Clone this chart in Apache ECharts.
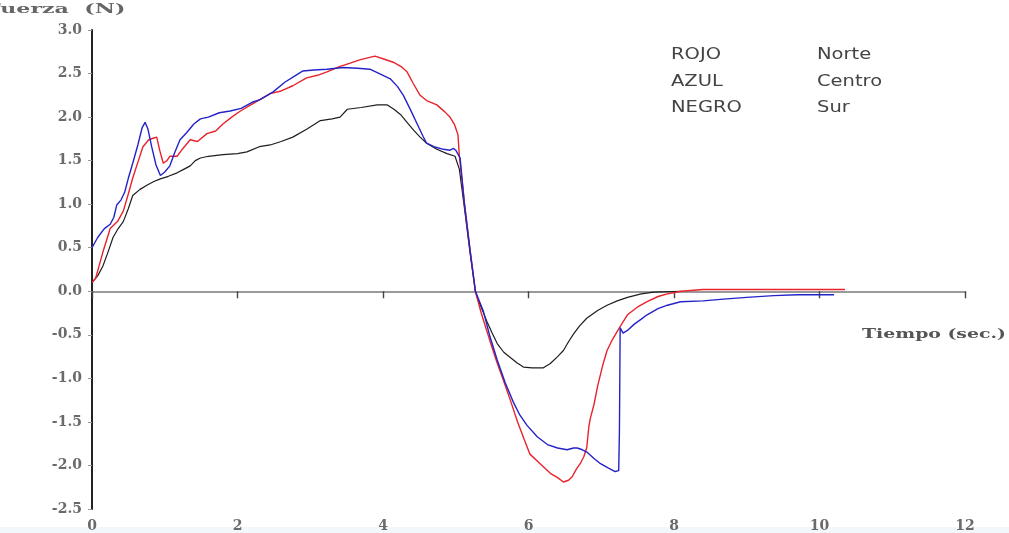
<!DOCTYPE html>
<html>
<head>
<meta charset="utf-8">
<title>Fuerza vs Tiempo</title>
<script src="https://cdn.jsdelivr.net/npm/echarts@6/dist/echarts.min.js"></script>
<style>
  html, body { margin: 0; padding: 0; background: #ffffff; }
  #chart { width: 1009px; height: 533px; }
</style>
</head>
<body>
<div id="chart"></div>
<script>
// Force curves (N) against time (s) for three sensors
var norte = [
  [0.00, 0.10], [0.05, 0.15], [0.15, 0.45], [0.25, 0.72], [0.35, 0.80], [0.43, 0.92],
  [0.50, 1.12], [0.56, 1.30], [0.63, 1.48], [0.70, 1.66], [0.78, 1.74], [0.85, 1.76],
  [0.89, 1.77], [0.93, 1.62], [0.98, 1.47], [1.03, 1.50], [1.07, 1.55], [1.17, 1.55],
  [1.25, 1.64], [1.35, 1.74], [1.45, 1.72], [1.58, 1.81], [1.70, 1.84], [1.80, 1.92],
  [1.92, 2.00], [2.04, 2.07], [2.20, 2.15], [2.45, 2.27], [2.60, 2.30], [2.76, 2.36],
  [2.95, 2.45], [3.10, 2.48], [3.23, 2.52], [3.40, 2.58], [3.55, 2.62], [3.69, 2.66],
  [3.89, 2.70], [4.00, 2.67], [4.14, 2.63], [4.25, 2.58], [4.33, 2.52], [4.42, 2.38],
  [4.51, 2.25], [4.60, 2.19], [4.74, 2.14], [4.85, 2.06], [4.92, 2.00], [4.98, 1.92],
  [5.03, 1.80], [5.05, 1.55], [5.12, 1.00], [5.20, 0.45], [5.27, 0.00], [5.35, -0.25],
  [5.47, -0.57], [5.56, -0.80], [5.65, -1.01], [5.75, -1.25], [5.85, -1.50], [5.94, -1.70],
  [6.02, -1.87], [6.16, -1.98], [6.30, -2.09], [6.40, -2.14], [6.48, -2.19], [6.55, -2.17],
  [6.60, -2.13], [6.66, -2.04], [6.71, -1.98], [6.76, -1.90], [6.80, -1.80], [6.83, -1.55],
  [6.85, -1.46], [6.90, -1.30], [6.95, -1.09], [7.02, -0.85], [7.08, -0.68], [7.15, -0.56],
  [7.22, -0.46], [7.30, -0.35], [7.36, -0.27], [7.50, -0.18], [7.63, -0.12], [7.78, -0.06],
  [7.91, -0.03], [8.10, 0.00], [8.40, 0.02], [9.00, 0.02], [9.60, 0.02], [10.35, 0.02]
];

var centro = [
  [0.00, 0.50], [0.08, 0.62], [0.17, 0.72], [0.25, 0.77], [0.30, 0.85], [0.34, 0.99],
  [0.40, 1.05], [0.45, 1.14], [0.50, 1.30], [0.56, 1.47], [0.63, 1.68], [0.69, 1.88],
  [0.73, 1.94], [0.77, 1.86], [0.82, 1.66], [0.88, 1.45], [0.94, 1.33], [1.00, 1.37],
  [1.07, 1.44], [1.14, 1.60], [1.21, 1.74], [1.30, 1.82], [1.40, 1.92], [1.49, 1.98],
  [1.60, 2.00], [1.75, 2.05], [1.90, 2.07], [2.05, 2.10], [2.20, 2.17], [2.31, 2.20],
  [2.49, 2.29], [2.65, 2.40], [2.80, 2.48], [2.90, 2.53], [3.05, 2.54], [3.23, 2.55],
  [3.45, 2.57], [3.65, 2.56], [3.82, 2.55], [3.95, 2.50], [4.10, 2.44], [4.20, 2.35],
  [4.28, 2.25], [4.38, 2.08], [4.47, 1.92], [4.55, 1.78], [4.60, 1.70], [4.70, 1.66],
  [4.83, 1.63], [4.92, 1.62], [4.97, 1.64], [5.00, 1.62], [5.06, 1.53], [5.12, 1.00],
  [5.20, 0.45], [5.27, 0.00], [5.38, -0.23], [5.47, -0.52], [5.57, -0.79], [5.68, -1.05],
  [5.79, -1.27], [5.88, -1.42], [5.98, -1.54], [6.12, -1.67], [6.26, -1.76], [6.40, -1.80],
  [6.53, -1.82], [6.62, -1.80], [6.67, -1.80], [6.74, -1.82], [6.81, -1.85], [6.90, -1.92],
  [6.99, -1.98], [7.10, -2.03], [7.19, -2.07], [7.24, -2.06], [7.25, -1.60], [7.26, -0.42],
  [7.30, -0.48], [7.36, -0.45], [7.45, -0.38], [7.55, -0.32], [7.63, -0.27], [7.78, -0.20],
  [7.91, -0.16], [8.09, -0.12], [8.40, -0.11], [8.68, -0.09], [9.00, -0.07], [9.37, -0.05],
  [9.70, -0.04], [10.05, -0.04], [10.20, -0.04]
];

var sur = [
  [0.00, 0.10], [0.08, 0.18], [0.15, 0.29], [0.22, 0.45], [0.29, 0.62], [0.36, 0.72],
  [0.43, 0.80], [0.50, 0.95], [0.56, 1.10], [0.66, 1.17], [0.76, 1.22], [0.85, 1.26],
  [0.94, 1.29], [1.05, 1.32], [1.17, 1.36], [1.26, 1.40], [1.35, 1.44], [1.42, 1.50],
  [1.49, 1.53], [1.60, 1.55], [1.80, 1.57], [2.00, 1.58], [2.13, 1.60], [2.30, 1.66],
  [2.45, 1.68], [2.60, 1.72], [2.76, 1.77], [2.95, 1.86], [3.14, 1.96], [3.30, 1.98],
  [3.41, 2.00], [3.51, 2.09], [3.70, 2.11], [3.92, 2.14], [4.06, 2.14], [4.15, 2.09],
  [4.24, 2.03], [4.33, 1.94], [4.42, 1.85], [4.51, 1.77], [4.60, 1.70], [4.74, 1.63],
  [4.88, 1.58], [4.99, 1.55], [5.05, 1.40], [5.12, 0.95], [5.20, 0.42], [5.27, 0.00],
  [5.30, -0.08], [5.43, -0.35], [5.50, -0.48], [5.57, -0.60], [5.66, -0.70], [5.75, -0.76],
  [5.84, -0.82], [5.93, -0.87], [6.05, -0.88], [6.20, -0.88], [6.30, -0.83], [6.40, -0.75],
  [6.48, -0.68], [6.55, -0.58], [6.62, -0.49], [6.70, -0.40], [6.80, -0.31], [6.95, -0.22],
  [7.08, -0.16], [7.22, -0.11], [7.36, -0.07], [7.55, -0.03], [7.72, -0.01], [8.10, 0.00]
];

// Tick values on the axes
var xTicks = [0, 2, 4, 6, 8, 10, 12];
var yTicks = [-2.5, -2.0, -1.5, -1.0, -0.5, 0.0, 0.5, 1.0, 1.5, 2.0, 2.5, 3.0];

// Key: colour name and location
var keyColours = ['ROJO', 'AZUL', 'NEGRO'];
var keyPlaces = ['Norte', 'Centro', 'Sur'];

var chart = echarts.init(document.getElementById('chart'), null, { renderer: 'canvas' });

var serifFont = '"DejaVu Serif", "Liberation Serif", serif';
var sansFont = '"DejaVu Sans", Verdana, sans-serif';

var keyGraphics = [];
keyColours.forEach(function (name, i) {
  keyGraphics.push({
    type: 'text', left: 671, top: 48 + i * 26.5, scaleX: 1.3,
    style: { text: name, fill: '#444', font: '15px ' + sansFont }
  });
  keyGraphics.push({
    type: 'text', left: 817, top: 48 + i * 26.5, scaleX: 1.3,
    style: { text: keyPlaces[i], fill: '#444', font: '15px ' + sansFont }
  });
});

var option = {
  backgroundColor: '#ffffff',
  animation: false,
  grid: { left: 92, right: 44, top: 30, bottom: 10, containLabel: false },
  xAxis: {
    type: 'value',
    min: xTicks[0], max: xTicks[xTicks.length - 1], interval: 2,
    axisLine: { onZero: true, lineStyle: { color: '#7a7a7a', width: 1.6 } },
    axisTick: { show: true, length: 7, lineStyle: { color: '#444', width: 1.4 } },
    axisLabel: {
      show: true, margin: 10, color: '#6a6a6a', fontWeight: 'bold',
      fontFamily: serifFont, fontSize: 14,
      showMinLabel: true, showMaxLabel: true
    },
    splitLine: { show: false }
  },
  yAxis: {
    type: 'value',
    min: yTicks[0], max: yTicks[yTicks.length - 1], interval: 0.5,
    axisLine: { onZero: false, lineStyle: { color: '#222', width: 2 } },
    axisTick: { show: true, length: 4, lineStyle: { color: '#999', width: 1 } },
    axisLabel: {
      show: true, margin: 10, color: '#6a6a6a', fontWeight: 'bold',
      fontFamily: serifFont, fontSize: 14,
      formatter: function (v) { return v.toFixed(1); }
    },
    splitLine: { show: false }
  },
  graphic: [
    {
      type: 'rect', left: 0, top: 527, silent: true,
      shape: { width: 1009, height: 6 },
      style: { fill: '#f1f7fb' }, z: -10
    },
    {
      type: 'text', left: -15, top: 3, scaleX: 1.7,
      style: { text: 'Fuerza  (N)', fill: '#666', font: 'bold 13px ' + serifFont }
    },
    {
      type: 'text', left: 862, top: 328, scaleX: 1.45,
      style: { text: 'Tiempo (sec.)', fill: '#555', font: 'bold 13px ' + serifFont }
    }
  ].concat(keyGraphics),
  series: [
    {
      name: 'Norte', type: 'line', data: norte, showSymbol: false, smooth: false,
      lineStyle: { color: '#e8232b', width: 1.4 }, z: 3
    },
    {
      name: 'Centro', type: 'line', data: centro, showSymbol: false, smooth: false,
      lineStyle: { color: '#2323c8', width: 1.4 }, z: 4
    },
    {
      name: 'Sur', type: 'line', data: sur, showSymbol: false, smooth: false,
      lineStyle: { color: '#1e1e1e', width: 1.2 }, z: 2
    }
  ]
};

chart.setOption(option);
</script>
</body>
</html>
